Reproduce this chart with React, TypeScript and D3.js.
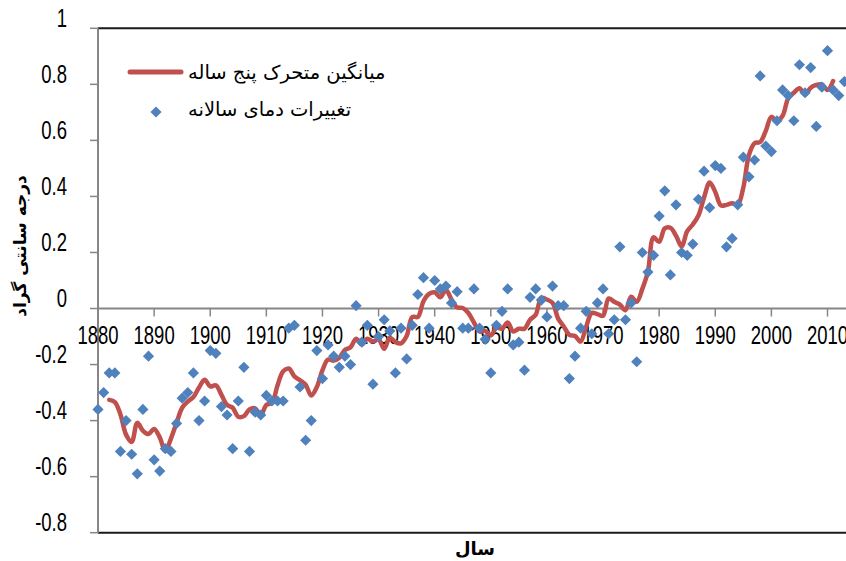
import React from "react";
import * as d3 from "d3";

const years: number[] = d3.range(1880, 2014);
const annualAnomaly: number[] = [
  -0.36, -0.30, -0.23, -0.23, -0.51, -0.40, -0.52, -0.59, -0.36, -0.17,
  -0.54, -0.58, -0.50, -0.51, -0.41, -0.32, -0.30, -0.23, -0.40, -0.33,
  -0.15, -0.16, -0.35, -0.38, -0.50, -0.33, -0.21, -0.51, -0.37, -0.38,
  -0.31, -0.33, -0.33, -0.33, -0.07, -0.06, -0.28, -0.47, -0.40, -0.15,
  -0.25, -0.13, -0.17, -0.21, -0.17, -0.20, 0.01, -0.12, -0.06, -0.27,
  -0.10, -0.04, -0.08, -0.23, -0.07, -0.18, -0.06, 0.05, 0.11, -0.07,
  0.10, 0.07, 0.08, 0.02, 0.06, -0.07, -0.07, 0.07, -0.07, -0.11,
  -0.23, -0.06, -0.01, 0.07, -0.13, -0.12, -0.22, 0.04, 0.07, 0.03,
  -0.03, 0.08, 0.01, 0.01, -0.25, -0.17, -0.07, -0.01, -0.09, 0.02,
  0.07, -0.09, -0.04, 0.22, -0.04, 0.02, -0.19, 0.20, 0.13, 0.19,
  0.33, 0.42, 0.12, 0.37, 0.20, 0.19, 0.23, 0.39, 0.49, 0.36,
  0.51, 0.50, 0.22, 0.25, 0.37, 0.54, 0.47, 0.53, 0.83, 0.58,
  0.56, 0.67, 0.78, 0.76, 0.67, 0.87, 0.77, 0.86, 0.65, 0.79,
  0.92, 0.78, 0.76, 0.81,
];

const maYears: number[] = d3.range(1882, 2012);
const movingAverage: number[] = [
  -0.326, -0.334, -0.378, -0.45, -0.476, -0.408, -0.436, -0.448,
  -0.43, -0.46, -0.508, -0.464, -0.408, -0.354, -0.332, -0.316, -0.282, -0.254,
  -0.278, -0.274, -0.308, -0.344, -0.354, -0.386, -0.384, -0.36, -0.356, -0.38,
  -0.344, -0.336, -0.274, -0.224, -0.214, -0.242, -0.256, -0.272, -0.31, -0.28,
  -0.22, -0.182, -0.186, -0.176, -0.148, -0.138, -0.108, -0.128, -0.108, -0.118,
  -0.11, -0.144, -0.104, -0.12, -0.124, -0.098, -0.03, -0.03, 0.026, 0.052,
  0.058, 0.04, 0.066, 0.032, 0.004, 0.002, -0.016, -0.05, -0.082, -0.08,
  -0.096, -0.068, -0.072, -0.05, -0.082, -0.072, -0.072, -0.04, -0.022, 0.038,
  0.032, 0.02, -0.036, -0.064, -0.094, -0.098, -0.118, -0.064, -0.016, -0.02,
  -0.026, 0.036, 0.024, 0.014, -0.006, 0.042, 0.024, 0.07, 0.132, 0.254,
  0.238, 0.286, 0.288, 0.26, 0.222, 0.276, 0.30, 0.332, 0.396, 0.45,
  0.416, 0.368, 0.37, 0.376, 0.37, 0.432, 0.548, 0.59, 0.594, 0.634,
  0.684, 0.67, 0.688, 0.75, 0.77, 0.786, 0.764, 0.788, 0.798, 0.80,
  0.78, 0.812,
];

const xTicks: number[] = [1880, 1890, 1900, 1910, 1920, 1930, 1940, 1950, 1960, 1970, 1980, 1990, 2000, 2010];
const yTicks: number[] = [1, 0.8, 0.6, 0.4, 0.2, 0, -0.2, -0.4, -0.6, -0.8];
const yTickLabels: string[] = ["1", "0.8", "0.6", "0.4", "0.2", "0", "-0.2", "-0.4", "-0.6", "-0.8"];

const seriesNames: string[] = ["میانگین متحرک پنج ساله", "تغییرات دمای سالانه"];
const yTitle = "درجه سانتی گراد";
const xTitle = "سال";

const W = 846;
const H = 561;
const LEFT = 98;
const TOP = 28.3;
const BOTTOM = 532.7;

const numFont = "'Liberation Sans', Arial, sans-serif";
const faFont = "'DejaVu Sans', sans-serif";
const NARROW = 0.74;

const RED = "#C0504D";
const BLUE = "#4F81BD";
const AXIS = "#868686";

const diamond = (cx: number, cy: number, r: number) =>
  `M${cx},${cy - r}L${cx + r},${cy}L${cx},${cy + r}L${cx - r},${cy}Z`;

export default function App() {
  const x = d3.scaleLinear().domain([1880, 2010]).range([LEFT, 827.5]);
  const y = d3.scaleLinear().domain([-0.8, 1]).range([BOTTOM, TOP]);

  const line = d3
    .line<number>()
    .x((_, i) => x(maYears[i]))
    .y((d) => y(d))
    .curve(d3.curveCatmullRom.alpha(0.5));

  const y0 = y(0);

  return (
    <svg
      width={W}
      height={H}
      style={{ position: "absolute", left: 0, top: 0, background: "#fff" }}
    >
      <rect x={0} y={0} width={W} height={H} fill="#fff" />
      {/* frame lines */}
      <line x1={LEFT} x2={W} y1={TOP} y2={TOP} stroke="#1a1a1a" strokeWidth={2} />
      <line x1={LEFT} x2={W} y1={BOTTOM} y2={BOTTOM} stroke="#1a1a1a" strokeWidth={2} />
      {/* y axis */}
      <line x1={LEFT} x2={LEFT} y1={TOP} y2={BOTTOM} stroke={AXIS} strokeWidth={2} />
      {yTicks.map((t, i) => (
        <g key={"yt" + i}>
          <line x1={LEFT - 8} x2={LEFT} y1={y(t)} y2={y(t)} stroke={AXIS} strokeWidth={1.5} />
          <text
            transform={`translate(67,${y(t) - 1.5}) scale(${NARROW},1)`}
            textAnchor="end"
            fontFamily={numFont}
            fontSize={25}
            fill="#000"
          >
            {yTickLabels[i]}
          </text>
        </g>
      ))}
      {/* x axis at zero */}
      <line x1={LEFT} x2={W} y1={y0} y2={y0} stroke={AXIS} strokeWidth={2} />
      {xTicks.map((t) => (
        <g key={"xt" + t}>
          <line x1={x(t)} x2={x(t)} y1={y0} y2={y0 + 8} stroke={AXIS} strokeWidth={1.5} />
          <text
            transform={`translate(${x(t)},${y0 + 35}) scale(${NARROW},1)`}
            textAnchor="middle"
            fontFamily={numFont}
            fontSize={25}
            fill="#000"
          >
            {t}
          </text>
        </g>
      ))}
      {/* moving average */}
      <path
        d={line(movingAverage) || ""}
        fill="none"
        stroke={RED}
        strokeWidth={4.5}
        strokeLinejoin="round"
        strokeLinecap="round"
      />
      {/* annual points */}
      {annualAnomaly.map((v, i) => (
        <path key={"p" + i} d={diamond(x(years[i]), y(v), 5.6)} fill={BLUE} />
      ))}
      {/* legend */}
      <line x1={130} x2={181} y1={72} y2={72} stroke={RED} strokeWidth={5} strokeLinecap="round" />
      <text x={188} y={72} dominantBaseline="central" fontFamily={faFont} fontSize={19.5} fill="#000">
        {seriesNames[0]}
      </text>
      <path d={diamond(156, 112, 5.6)} fill={BLUE} />
      <text x={188} y={109} dominantBaseline="central" fontFamily={faFont} fontSize={19.5} fill="#000">
        {seriesNames[1]}
      </text>
      {/* axis titles */}
      <text
        transform={`translate(20,246) rotate(-90)`}
        textAnchor="middle"
        dominantBaseline="central"
        fontFamily={faFont}
        fontSize={17}
        fontWeight="bold"
        fill="#000"
      >
        {yTitle}
      </text>
      <text
        x={475}
        y={548}
        textAnchor="middle"
        dominantBaseline="central"
        fontFamily={faFont}
        fontSize={18}
        fontWeight="bold"
        fill="#000"
      >
        {xTitle}
      </text>
    </svg>
  );
}
